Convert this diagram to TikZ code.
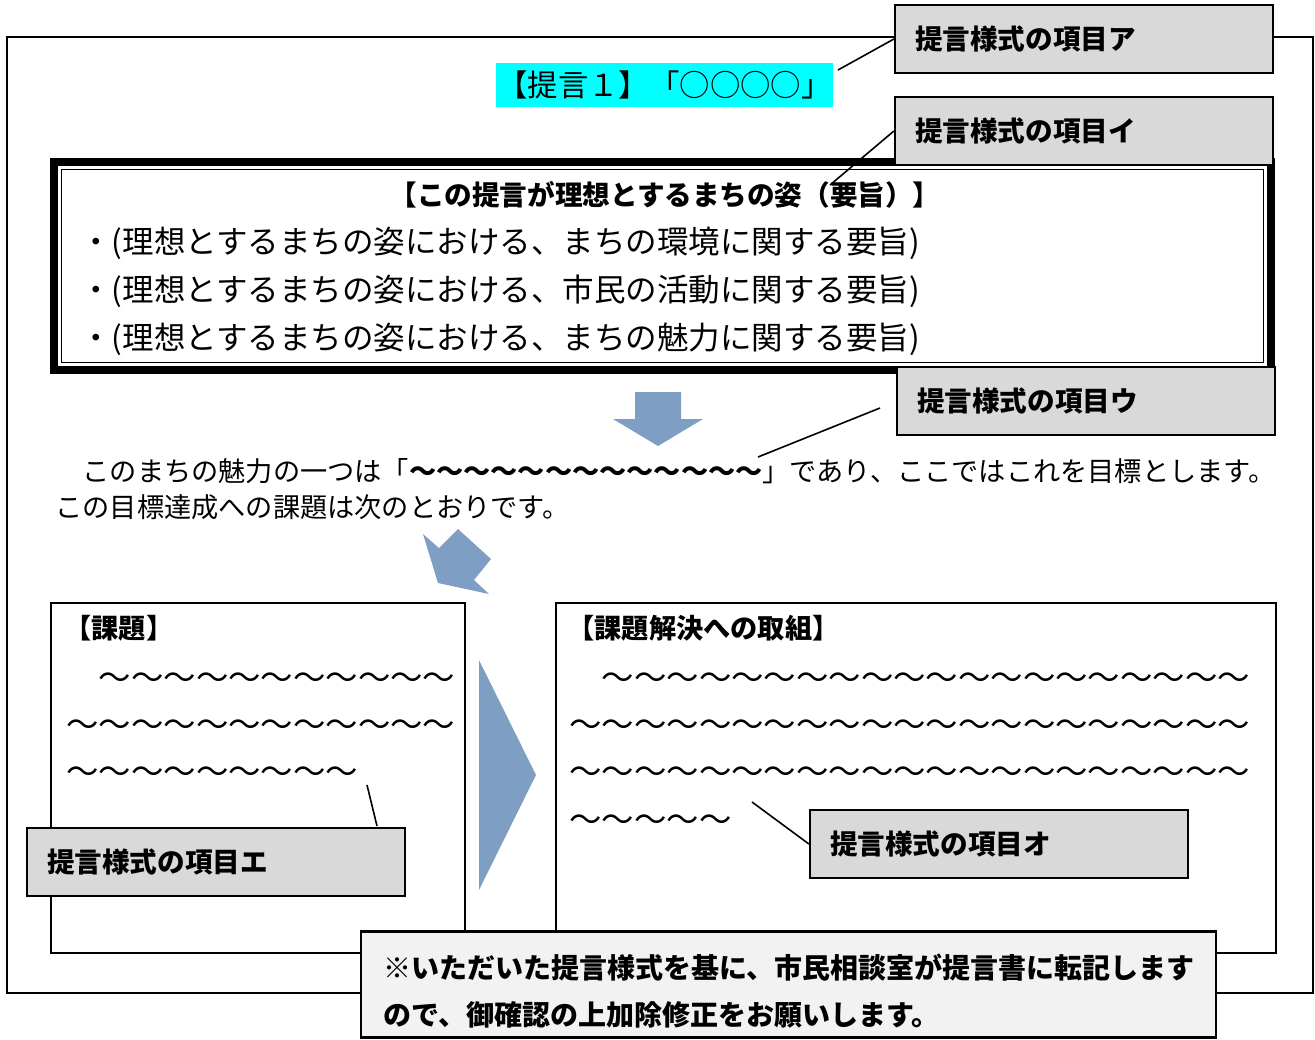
\documentclass[tikz,border=0pt]{standalone}
\usepackage{fontspec}
\setmainfont{Noto Sans CJK JP}
\definecolor{calgray}{HTML}{D9D9D9}
\definecolor{notegray}{HTML}{F2F2F2}
\definecolor{arrowblue}{HTML}{7F9EC3}
\definecolor{hlcyan}{HTML}{00FFFF}
\begin{document}
\begin{tikzpicture}[x=0.5pt,y=-0.5pt,
  callout/.style={draw,line width=1.1pt,fill=calgray,minimum width=189pt,minimum height=34pt,
    text width=169pt,inner xsep=10pt,align=left,font=\fontsize{13.8}{16}\selectfont\bfseries},
  lead/.style={line width=0.8pt},
  blockarrow/.style={fill=arrowblue,draw=none},
  bodytxt/.style={anchor=west,inner sep=0pt,font=\fontsize{13.6}{16}\selectfont},
  bullettxt/.style={anchor=west,inner sep=0pt,font=\fontsize{15.75}{18}\selectfont},
  wavetxt/.style={anchor=west,inner sep=0pt,font=\fontsize{16.2}{18}\selectfont},
  headtxt/.style={anchor=west,inner sep=0pt,font=\fontsize{13.6}{16}\selectfont\bfseries},
  notetxt/.style={anchor=west,inner sep=0pt,font=\fontsize{14}{16}\selectfont\bfseries},
  panel/.style={draw,line width=0.9pt,fill=white,inner sep=0pt}
]
\useasboundingbox (0,0) rectangle (1315,1039);
% outer frame
\draw[line width=1pt] (7,37) rectangle (1313,993);
% cyan title
\node[fill=hlcyan,minimum width=168.5pt,minimum height=22pt,inner sep=0pt,
  font=\fontsize{15.2}{18}\selectfont] (teigen) at (664.5,85) {【提言１】「○○○○」};
% double box
\draw[line width=4pt] (54,162) rectangle (1271,370);
\draw[line width=0.7pt] (61.5,169.5) rectangle (1263.5,362.5);
\node[inner sep=0pt,font=\fontsize{13.8}{16}\selectfont\bfseries] (ideal) at (665,195)
  {【この提言が理想とするまちの姿（要旨）】};
\node[bullettxt] (b1) at (80,243) {・(理想とするまちの姿における、まちの環境に関する要旨)};
\node[bullettxt] (b2) at (80,291) {・(理想とするまちの姿における、市民の活動に関する要旨)};
\node[bullettxt] (b3) at (80,339) {・(理想とするまちの姿における、まちの魅力に関する要旨)};
% down arrow
\fill[blockarrow] (635,392) -- (681,392) -- (681,419) -- (703,419) -- (658,446)
  -- (613,419) -- (635,419) -- cycle;
% body text
\node[bodytxt] (t1) at (55,471) {　このまちの魅力の一つは「\textbf{～～～～～～～～～～～～～}」であり、ここではこれを目標とします。};
\node[bodytxt] (t2) at (55,507) {この目標達成への課題は次のとおりです。};
% diagonal arrow
\fill[blockarrow] (423,534) -- (439,548) -- (458,529) -- (491,559) -- (474,580)
  -- (489,594) -- (438,583) -- cycle;
% left panel
\node[panel,minimum width=207pt,minimum height=175pt] (kadai) at (258,778) {};
\node[headtxt] (kadaih) at (64,628) {【課題】};
\node[wavetxt] (kw1) at (66,681) {　〜〜〜〜〜〜〜〜〜〜〜};
\node[wavetxt] (kw2) at (66,728) {〜〜〜〜〜〜〜〜〜〜〜〜};
\node[wavetxt] (kw3) at (66,775) {〜〜〜〜〜〜〜〜〜};
% right triangle arrow
\fill[blockarrow] (479,660) -- (536,775) -- (479,890) -- cycle;
% right panel
\node[panel,minimum width=360pt,minimum height=175pt] (torikumi) at (916,778) {};
\node[headtxt] (torih) at (567,628) {【課題解決への取組】};
\node[wavetxt] (rw1) at (569,681) {　〜〜〜〜〜〜〜〜〜〜〜〜〜〜〜〜〜〜〜〜};
\node[wavetxt] (rw2) at (569,728) {〜〜〜〜〜〜〜〜〜〜〜〜〜〜〜〜〜〜〜〜〜};
\node[wavetxt] (rw3) at (569,775) {〜〜〜〜〜〜〜〜〜〜〜〜〜〜〜〜〜〜〜〜〜};
\node[wavetxt] (rw4) at (569,823) {〜〜〜〜〜};
% callouts
\node[callout] (ka) at (1084,39) {提言様式の項目ア};
\node[callout] (ki) at (1084,131) {提言様式の項目イ};
\node[callout] (ku) at (1086,401) {提言様式の項目ウ};
\node[callout] (ke) at (216,862) {提言様式の項目エ};
\node[callout] (ko) at (999,844) {提言様式の項目オ};
% leader lines
\coordinate (pa) at (838,70);
\coordinate (pi) at (830,185);
\coordinate (pu1) at (880,408);
\coordinate (pu2) at (758,457);
\coordinate (pe1) at (377,826);
\coordinate (pe2) at (367,785);
\coordinate (po) at (752,802);
\draw[lead] (ka.west) -- (pa);
\draw[lead] (ki.west) -- (pi);
\draw[lead] (pu1) -- (pu2);
\draw[lead] (pe1) -- (pe2);
\draw[lead] (ko.west) -- (po);
% note box
\node[draw,line width=1.1pt,fill=notegray,minimum width=427.5pt,minimum height=53pt,inner sep=0pt]
  (note) at (788.5,984.5) {};
\node[notetxt] (n1) at (383,968) {※いただいた提言様式を基に、市民相談室が提言書に転記します};
\node[notetxt] (n2) at (383,1015) {ので、御確認の上加除修正をお願いします。};
\end{tikzpicture}
\end{document}
